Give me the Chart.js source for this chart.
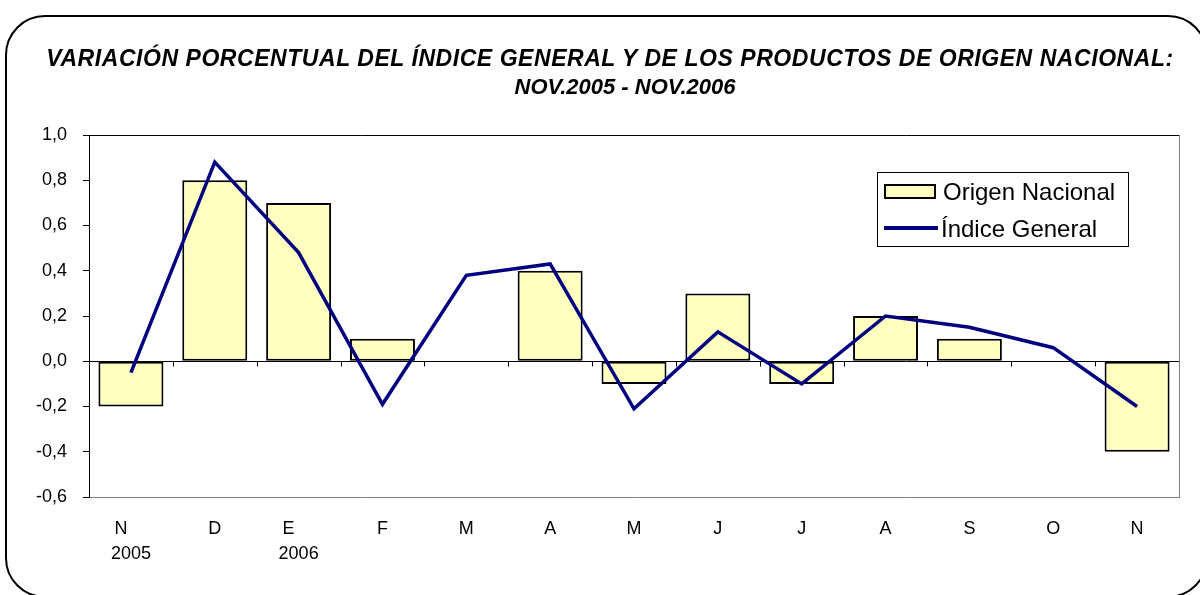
<!DOCTYPE html>
<html>
<head>
<meta charset="utf-8">
<script src="https://cdn.jsdelivr.net/npm/chart.js@4"></script>
<style>
  html, body { margin: 0; padding: 0; background: #fff; overflow: hidden; }
  #wrap { position: relative; width: 1200px; height: 595px; overflow: hidden; font-family: "Liberation Sans", Arial, sans-serif; }
  #frame { position: absolute; left: 5px; top: 15px; width: 1199px; height: 579px; border: 2px solid #000; border-radius: 40px; }
  .title { position: absolute; left: 0; width: 1220px; text-align: center; font-weight: bold; font-style: italic; font-size: 22px; color: #000; white-space: nowrap; }
  #legend { position: absolute; left: 877px; top: 172px; width: 250px; height: 73px; border: 1px solid #000; background: #fff; }
  .item { position: absolute; left: 6px; font-size: 24px; white-space: nowrap; }
  .sw { position: absolute; left: 6px; }
  canvas { position: absolute; left: 0; top: 0; }
</style>
</head>
<body>
<div id="wrap">
  <canvas id="myChart" width="1200" height="595"></canvas>
  <div id="frame"></div>
  <div class="title" style="top:45px; font-size:23px; letter-spacing:0.55px">VARIACIÓN PORCENTUAL DEL ÍNDICE GENERAL Y DE LOS PRODUCTOS DE ORIGEN NACIONAL:</div>
  <div class="title" style="top:74px; width:1250px">NOV.2005 - NOV.2006</div>
  <div id="legend">
    <div class="sw" style="top:11px; width:48px; height:11px; border:2px solid #000; background:#FFFFC0;"></div>
    <div class="item" style="left:65px; top:5px">Origen Nacional</div>
    <div class="sw" style="top:53px; width:54px; height:4px; background:#000080;"></div>
    <div class="item" style="left:63px; top:42px">Índice General</div>
  </div>
</div>
<script>
// meses nov.2005 - nov.2006
let meses = [["N    ", "2005"], "D", ["E    ", "2006"], "F", "M", "A", "M", "J", "J", "A", "S", "O", "N"];
let origenNacional = [-0.2, 0.8, 0.7, 0.1, null, 0.4, -0.1, 0.3, -0.1, 0.2, 0.1, null, -0.4];
let indiceGeneral = [-0.05, 0.88, 0.48, -0.19, 0.38, 0.43, -0.21, 0.13, -0.1, 0.2, 0.15, 0.06, -0.2];

let extras = {
  id: "extras",
  beforeDatasetsDraw(chart) {
    let ctx = chart.ctx;
    let a = chart.chartArea;
    let y0 = Math.round(chart.scales.y.getPixelForValue(0)) + 0.5;
    ctx.save();
    ctx.lineWidth = 1;
    ctx.strokeStyle = "#000";
    ctx.beginPath();
    ctx.moveTo(a.left, y0);
    ctx.lineTo(a.right, y0);
    // marcas entre categorias
    let w = (a.right - a.left) / meses.length;
    for (let i = 1; i <= meses.length; i++) {
      let x = Math.round(a.left + w * i) + 0.5;
      ctx.moveTo(x, y0);
      ctx.lineTo(x, y0 + 5);
    }
    ctx.stroke();
    ctx.beginPath();
    ctx.moveTo(a.left, Math.round(a.top) + 0.5);
    ctx.lineTo(a.right, Math.round(a.top) + 0.5);
    ctx.stroke();
    ctx.strokeStyle = "#808080";
    ctx.beginPath();
    ctx.moveTo(Math.round(a.right) + 0.5, a.top);
    ctx.lineTo(Math.round(a.right) + 0.5, a.bottom);
    ctx.stroke();
    ctx.restore();
  },
};

let ctx = document.getElementById("myChart").getContext("2d");
let myChart = new Chart(ctx, {
  type: "bar",
  data: {
    labels: meses,
    datasets: [
      {
        type: "line",
        label: "Índice General",
        data: indiceGeneral,
        borderColor: "#000080",
        borderWidth: 3.5,
        pointRadius: 0,
        tension: 0,
        order: 0,
      },
      {
        label: "Origen Nacional",
        data: origenNacional,
        backgroundColor: "#FFFFC0",
        borderColor: "#000",
        borderWidth: 2,
        borderSkipped: false,
        categoryPercentage: 0.775,
        barPercentage: 1,
        order: 1,
      },
    ],
  },
  options: {
    responsive: false,
    animation: false,
    layout: { padding: { left: 0, right: 21, top: 135, bottom: 0 } },
    plugins: { legend: { display: false }, tooltip: { enabled: false } },
    scales: {
      x: {
        grid: { display: false },
        border: { display: true, color: "#808080", width: 1 },
        ticks: {
          color: "#000",
          font: { family: "Liberation Sans", size: 18, lineHeight: 1.39 },
          padding: 12,
          maxRotation: 0,
        },
        afterFit(s) { s.height = 98; },
      },
      y: {
        min: -0.6,
        max: 1.0,
        grid: { drawOnChartArea: false, drawTicks: true, tickLength: 6, color: "#000" },
        border: { display: true, color: "#000", width: 1 },
        ticks: {
          stepSize: 0.2,
          color: "#000",
          font: { family: "Liberation Sans", size: 18 },
          padding: 16,
          callback: (v) => v.toFixed(1).replace(".", ","),
        },
        afterFit(s) { s.width = 89; },
      },
    },
  },
  plugins: [extras],
});
</script>
</body>
</html>
